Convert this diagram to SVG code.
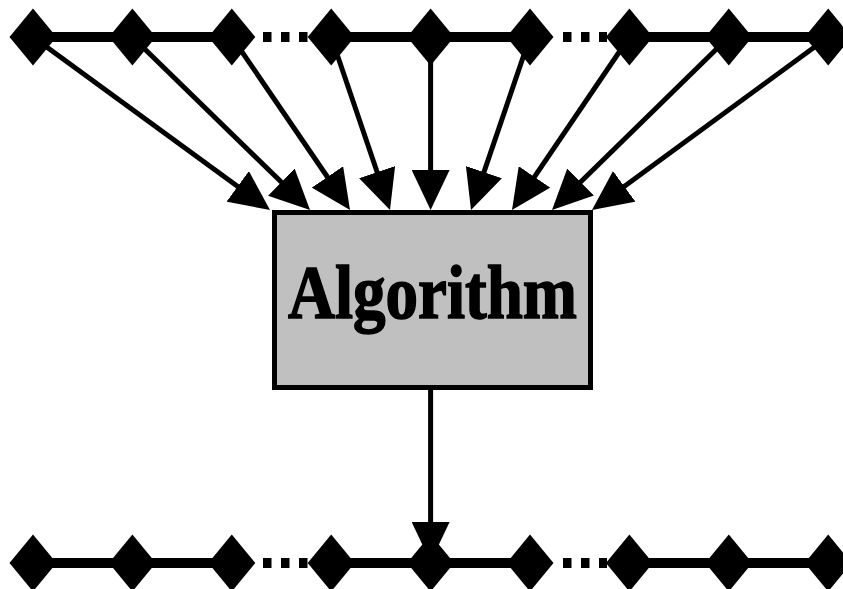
<svg xmlns="http://www.w3.org/2000/svg" width="843" height="589" viewBox="0 0 843 589">
<style>
.row{stroke:#000;stroke-width:10;fill:none}
.dots{stroke:#000;stroke-width:10;fill:none;stroke-dasharray:8.5 9.5}
.arr{stroke:#000;stroke-width:5;fill:none;marker-end:url(#ah)}
.dm{fill:#000}
.box{fill:#C0C0C0;stroke:#000;stroke-width:5}
.lbl{font-family:"Liberation Serif","Times New Roman",serif;font-weight:bold;font-size:77px;fill:#000;stroke:#000;stroke-width:1.6}
</style>
<defs>
<marker id="ah" markerUnits="userSpaceOnUse" viewBox="0 0 40 38" markerWidth="40" markerHeight="38" refX="20" refY="19" orient="auto">
<path d="M0,0 L40,19 L0,38 z" fill="#000"/>
</marker>
<path id="d" d="M0,-28.5 L23.5,0 L0,28.5 L-23.5,0 z"/>
</defs>
<g id="connectors">
<path class="row" d="M33,37 H232 M331,37 H530 M629,37 H828"/>
<path class="dots" d="M263,37 H308 M563,37 H607"/>
<path class="row" d="M33,563 H232 M331,563 H530 M629,563 H828"/>
<path class="dots" d="M263,563 H308 M563,563 H607"/>
<line class="arr" x1="33" y1="37" x2="253.85" y2="198.21"/>
<line class="arr" x1="132.4" y1="37" x2="295.67" y2="196.04"/>
<line class="arr" x1="231.8" y1="37" x2="338.72" y2="193.49"/>
<line class="arr" x1="331.2" y1="37" x2="383.56" y2="191.06"/>
<line class="arr" x1="430.6" y1="37" x2="430.6" y2="190"/>
<line class="arr" x1="530" y1="37" x2="477.46" y2="191.07"/>
<line class="arr" x1="629.4" y1="37" x2="523.23" y2="193.45"/>
<line class="arr" x1="728.8" y1="37" x2="566.3" y2="196.01"/>
<line class="arr" x1="828.2" y1="37" x2="608.13" y2="198.18"/>
<line class="arr" x1="430.6" y1="390" x2="430.6" y2="542"/>
</g>
<g id="algorithm">
<rect class="box" x="274.5" y="212.5" width="316" height="175"/>
<text class="lbl" x="432.5" y="318" text-anchor="middle" textLength="289" lengthAdjust="spacingAndGlyphs">Algorithm</text>
</g>
<g id="in1"><use href="#d" class="dm" x="33" y="37"/></g>
<g id="in2"><use href="#d" class="dm" x="132.4" y="37"/></g>
<g id="in3"><use href="#d" class="dm" x="231.8" y="37"/></g>
<g id="in4"><use href="#d" class="dm" x="331.2" y="37"/></g>
<g id="in5"><use href="#d" class="dm" x="430.6" y="37"/></g>
<g id="in6"><use href="#d" class="dm" x="530" y="37"/></g>
<g id="in7"><use href="#d" class="dm" x="629.4" y="37"/></g>
<g id="in8"><use href="#d" class="dm" x="728.8" y="37"/></g>
<g id="in9"><use href="#d" class="dm" x="828.2" y="37"/></g>
<g id="out1"><use href="#d" class="dm" x="33" y="563"/></g>
<g id="out2"><use href="#d" class="dm" x="132.4" y="563"/></g>
<g id="out3"><use href="#d" class="dm" x="231.8" y="563"/></g>
<g id="out4"><use href="#d" class="dm" x="331.2" y="563"/></g>
<g id="out5"><use href="#d" class="dm" x="430.6" y="563"/></g>
<g id="out6"><use href="#d" class="dm" x="530" y="563"/></g>
<g id="out7"><use href="#d" class="dm" x="629.4" y="563"/></g>
<g id="out8"><use href="#d" class="dm" x="728.8" y="563"/></g>
<g id="out9"><use href="#d" class="dm" x="828.2" y="563"/></g>
</svg>
